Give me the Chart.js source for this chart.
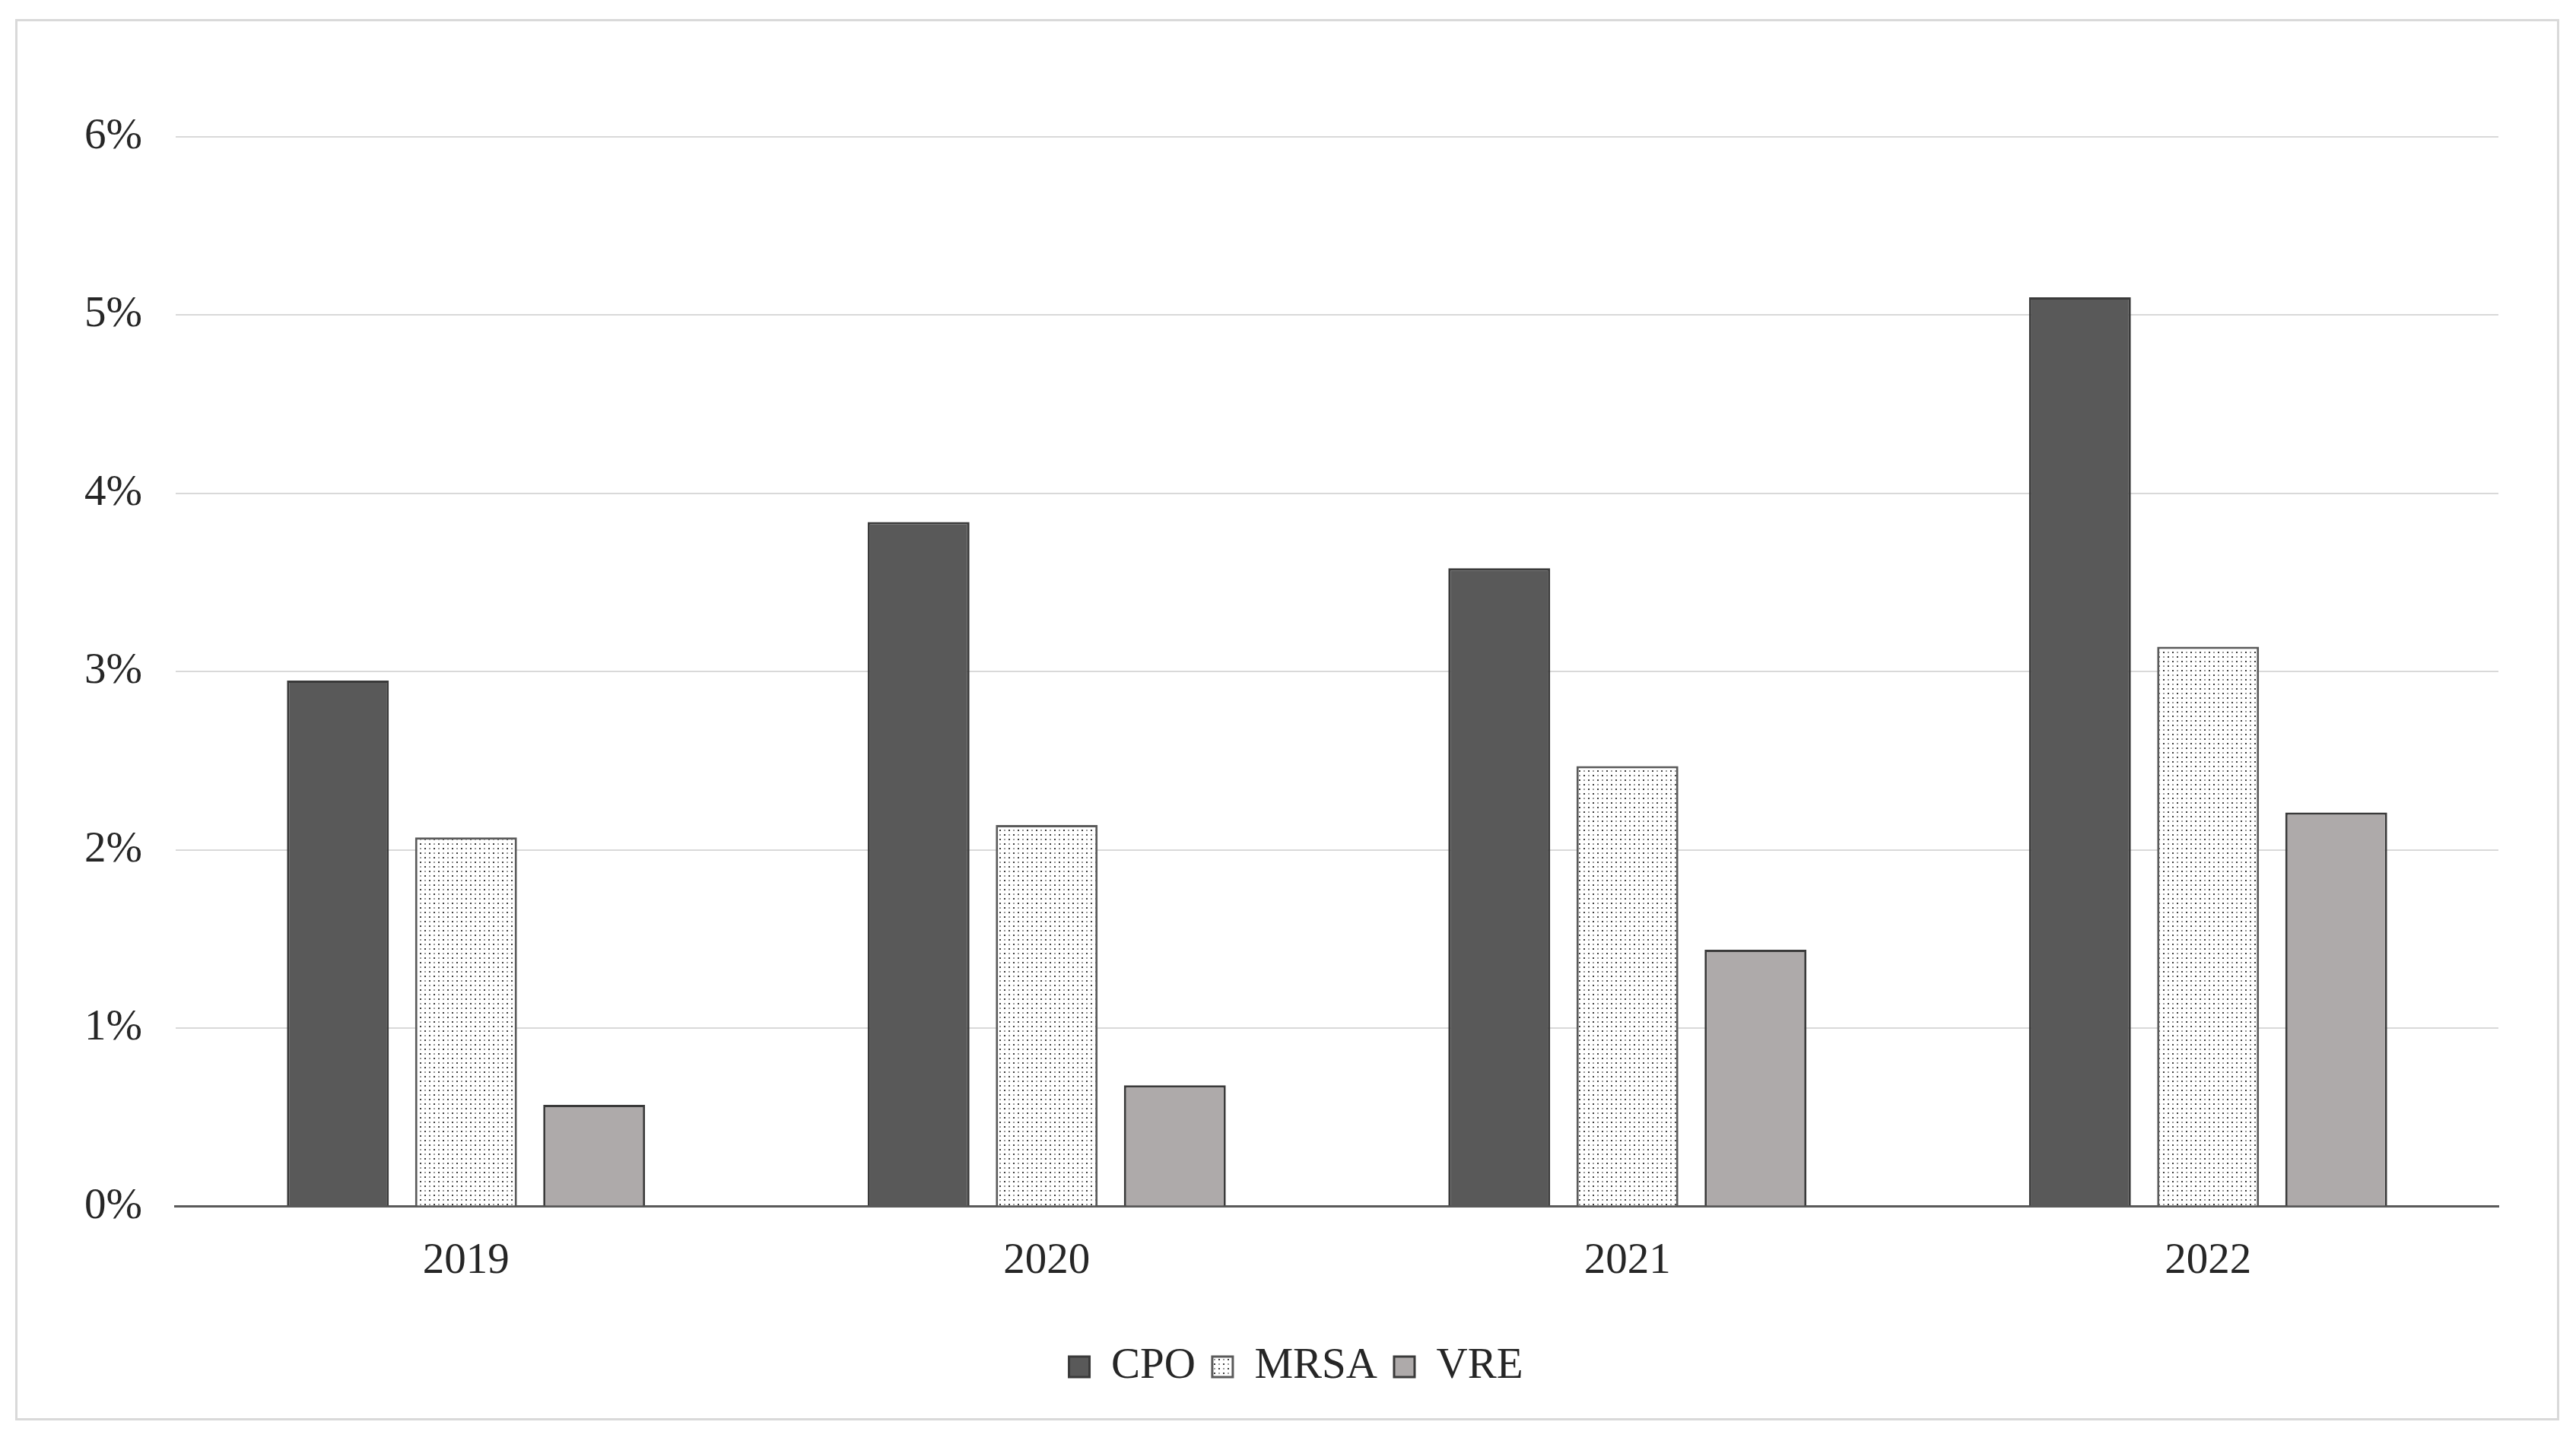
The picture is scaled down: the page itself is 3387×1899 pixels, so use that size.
<!DOCTYPE html>
<html>
<head>
<meta charset="utf-8">
<script src="https://cdn.jsdelivr.net/npm/chart.js@4.4.1/dist/chart.umd.min.js"></script>
<style>
  html, body { margin: 0; padding: 0; background: #fff; }
  #frame {
    position: absolute; left: 20px; top: 25px;
    width: 3339px; height: 1837px;
    border: 3px solid #d9d9d9;
  }
  #chart { display: block; }
</style>
</head>
<body>
<div id="frame"><canvas id="chart" width="3339" height="1837"></canvas></div>
<script>
// данные (в процентах)
var years = ['2019', '2020', '2021', '2022'];
var cpo  = [2.95, 3.84, 3.58, 5.10];
var mrsa = [2.07, 2.14, 2.47, 3.14];
var vre  = [0.57, 0.68, 1.44, 2.21];
var yTicks = [0, 1, 2, 3, 4, 5, 6];

// точечная штриховка для MRSA
function dotPattern() {
    var c = document.createElement('canvas');
    c.width = 12; c.height = 12;
    var g = c.getContext('2d');
    g.fillStyle = '#ffffff';
    g.fillRect(0, 0, 12, 12);
    g.fillStyle = '#3f3f3f';
    g.fillRect(1, 1, 2, 2);
    g.fillRect(7, 7, 2, 2);
    g.fillStyle = '#9a9a9a';
    g.fillRect(7, 1, 2, 2);
    g.fillRect(1, 7, 2, 2);
    return g.createPattern(c, 'repeat');
}

var font = 'Liberation Serif, Times New Roman, serif';
var textColor = '#262626';

// легенда в оригинале немного правее центра
var legendShift = {
    id: 'legendShift',
    afterLayout: function(chart) {
        if (chart.legend) {
            chart.legend.left += 28;
            chart.legend.right += 28;
        }
    }
};

new Chart(document.getElementById('chart'), {
    type: 'bar',
    data: {
        labels: years,
        datasets: [
            { label: 'CPO', data: cpo, backgroundColor: '#595959', borderColor: '#3a3a3a', borderWidth: 3 },
            { label: 'MRSA', data: mrsa, backgroundColor: dotPattern(), borderColor: '#5a5a5a', borderWidth: 3 },
            { label: 'VRE', data: vre, backgroundColor: '#aeaaaa', borderColor: '#3a3a3a', borderWidth: 3 }
        ]
    },
    options: {
        responsive: false,
        animation: false,
        devicePixelRatio: 1,
        layout: { padding: { left: 44, right: 77, top: 152, bottom: 29 } },
        datasets: { bar: { categoryPercentage: 0.662, barPercentage: 0.795 } },
        scales: {
            x: {
                grid: { display: false },
                border: { display: true, color: '#595959', width: 3 },
                ticks: { color: textColor, font: { family: font, size: 57 }, padding: 30 },
                afterFit: function(scale) { scale.height += 24; }
            },
            y: {
                min: 0, max: 6,
                afterBuildTicks: function(axis) { axis.ticks = yTicks.map(function(v) { return { value: v }; }); },
                grid: { color: '#d9d9d9', lineWidth: 2, drawTicks: false },
                border: { display: false },
                ticks: {
                    color: textColor,
                    font: { family: font, size: 57 },
                    padding: 44,
                    callback: function(v) { return v + '%'; }
                }
            }
        },
        plugins: {
            legend: {
                position: 'bottom',
                labels: {
                    color: textColor,
                    font: { family: font, size: 57 },
                    boxWidth: 27, boxHeight: 27,
                    padding: 22
                }
            },
            tooltip: { enabled: false }
        }
    },
    plugins: [legendShift]
});
</script>
</body>
</html>
